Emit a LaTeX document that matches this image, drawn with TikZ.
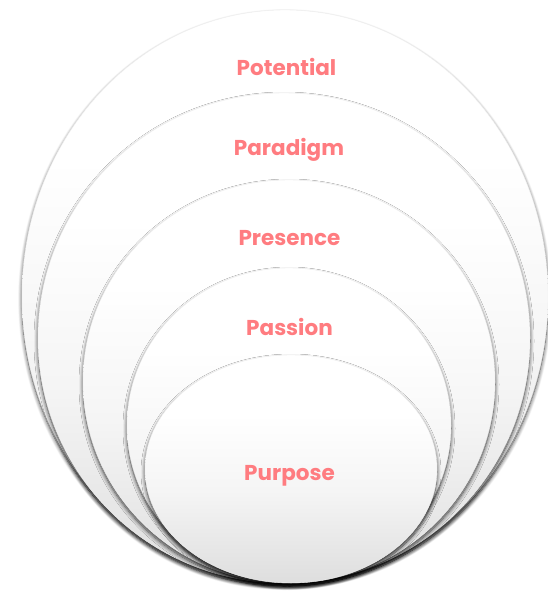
\documentclass[tikz,border=0pt]{standalone}
\usepackage{fontspec}
\setmainfont{Poppins}
\usetikzlibrary{shadows.blur}
\usepackage{xcolor}
\definecolor{salmon}{HTML}{FF7C80}
\pgfdeclareverticalshading{ringfill}{100bp}{color(0bp)=(black!13); color(25bp)=(black!13); color(45bp)=(black!4); color(62bp)=(white); color(100bp)=(white)}

\begin{document}
\begin{tikzpicture}[x=1pt, y=-1pt,
  ring/.style={draw=black!6, line width=.4pt, shading=ringfill,
    blur shadow={shadow xshift=0pt, shadow yshift=-3pt, shadow blur radius=4pt, shadow blur steps=10, shadow opacity=75}},
  word/.style={font=\bfseries\fontsize{21.5}{24}\selectfont, text=salmon, inner sep=0}]
\useasboundingbox (0,0) rectangle (547,596);
% rings, largest first, all resting on the same bottom line
\foreach \cx/\cy/\rx/\ry/\lbl/\tx/\ty/\nm in {
  285/296.5/263/286.5/Potential/286.5/67/potential,
  284/338/246/245/Paradigm/289/150/paradigm,
  289/381.5/206/201.5/Presence/289.5/238/presence,
  289/425.5/162/157.5/Passion/289.5/327/passion,
  291/469/146/114/Purpose/289.5/476/purpose} {
 \path[ring] (\cx,\cy) ellipse [x radius=\rx, y radius=\ry];
 \node[word] (\nm) at (\tx,\ty) {\lbl};
}
\end{tikzpicture}
\end{document}
